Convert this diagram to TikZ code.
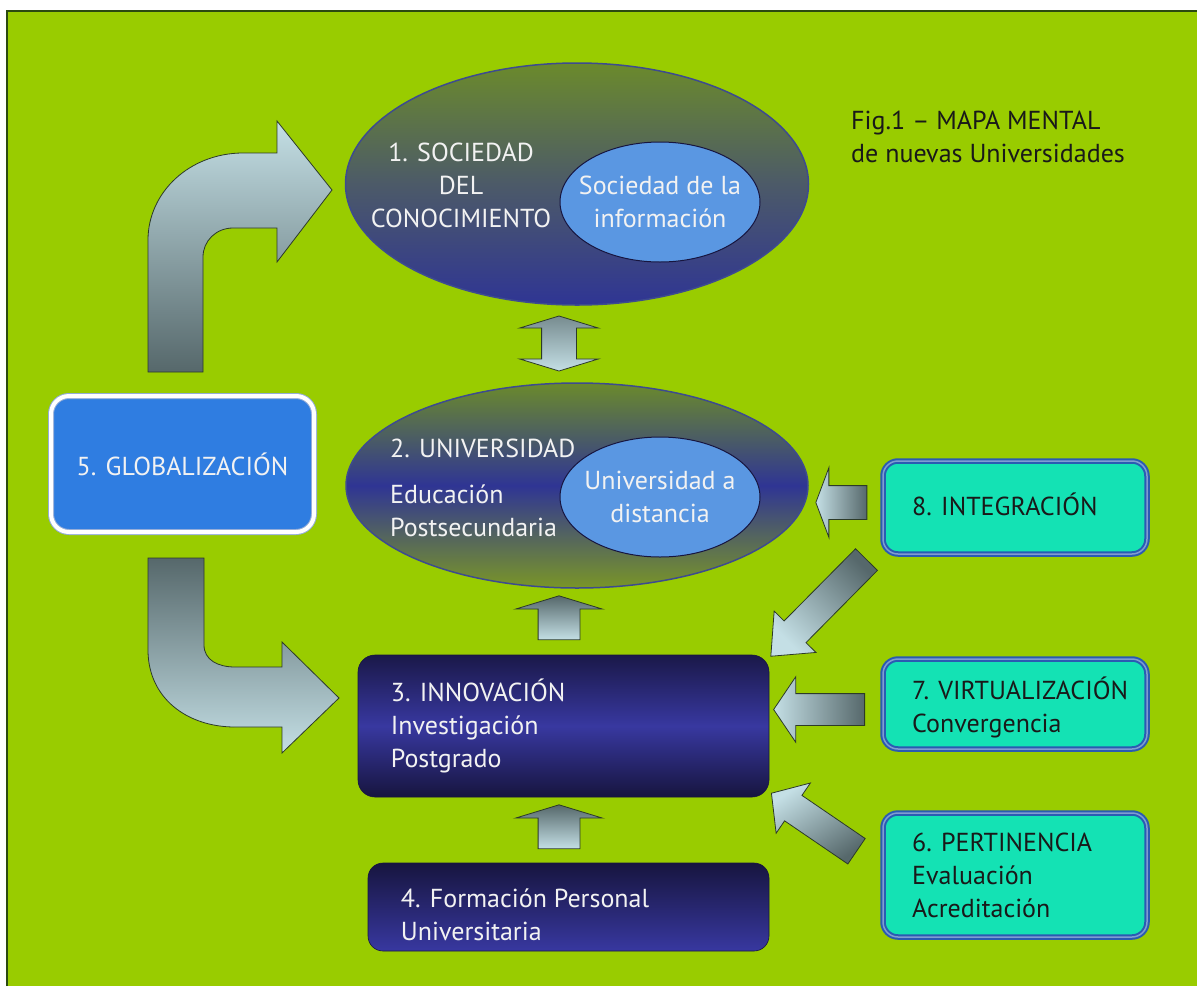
\documentclass[tikz,border=0pt]{standalone}
\usepackage{fontspec}
\setmainfont{PT Sans}
\usetikzlibrary{shapes.geometric,shapes.arrows}

\definecolor{fondo}{HTML}{99CC00}
\definecolor{borde}{HTML}{2B4A10}
\definecolor{oliva}{HTML}{6B8A2C}
\definecolor{pizarra}{HTML}{4C5A68}
\definecolor{marino}{HTML}{2F3594}
\definecolor{bordeelipse}{HTML}{3D4B8F}
\definecolor{celeste}{HTML}{5A97E2}
\definecolor{azul}{HTML}{2F7DE1}
\definecolor{turquesa}{HTML}{14E2B4}
\definecolor{bordeazul}{HTML}{2A5BB2}
\definecolor{noche}{HTML}{17153F}
\definecolor{indigo}{HTML}{3838A0}
\definecolor{flechaclara}{HTML}{C4DFE5}
\definecolor{flechaoscura}{HTML}{56686B}
\definecolor{bordeflecha}{HTML}{2C3A28}

\tikzset{
  txt/.style={font=\fontsize{26}{33}\selectfont, inner sep=0pt},
  blanco/.style={txt, text=white!95!black},
  negro/.style={txt, text=black!90},
  elipse/.style={ellipse, draw=bordeelipse, line width=1.5pt, inner sep=0pt},
  interior/.style={ellipse, draw=noche, line width=1pt, fill=celeste,
    minimum width=200pt, minimum height=120pt, inner sep=0pt},
  cajaoscura/.style={rectangle, rounded corners=17pt, draw=noche, line width=0.6pt},
  cajaverde/.style={rectangle, rounded corners=15pt, fill=turquesa, draw=bordeazul,
    double=bordeazul!60!white, double distance=1.5pt, line width=2pt,
    minimum width=264pt},
  flecha/.style={single arrow, draw=bordeflecha, line width=0.8pt, inner xsep=0pt},
  curva/.style={draw=bordeflecha, line width=0.8pt}
}

\begin{document}
\begin{tikzpicture}[x=1pt,y=-1pt]
  \useasboundingbox (0,0) rectangle (1197,986);
  % Fondo
  \fill[white] (0,0) rectangle (1197,986);
  \fill[fondo] (7,11) rectangle (1197,986);
  \draw[borde,line width=1.5pt] (7,986) -- (7,11) -- (1197,11);

  % 1. Sociedad del conocimiento
  \node[elipse, top color=oliva, bottom color=marino, middle color=pizarra,
    minimum width=463pt, minimum height=242pt] (soc) at (577,184) {};
  \node[interior] (socinf) at (660,202) {};
  \node[blanco, align=center] (socT) at (461,185) {1. SOCIEDAD\\DEL\\CONOCIMIENTO};
  \node[blanco, align=center] (socinfT) at (socinf.center) {Sociedad de la\\información};

  % 2. Universidad
  \node[elipse, top color=oliva, bottom color=oliva!90!yellow, middle color=marino,
    minimum width=462pt, minimum height=205pt] (univ) at (577,485.5) {};
  \node[interior] (univdist) at (660,497) {};
  \node[blanco, anchor=west] (univT) at (390,448) {2. UNIVERSIDAD};
  \node[blanco, anchor=west, align=left] (univE) at (390,511) {Educación\\Postsecundaria};
  \node[blanco, align=center] (univdistT) at (univdist.center) {Universidad a\\distancia};

  % 3. Innovacion
  \node[cajaoscura, top color=noche!90!indigo, bottom color=noche, middle color=indigo,
    minimum width=411pt, minimum height=142pt] (inno) at (563.5,726) {};
  \node[blanco, anchor=west, align=left] (innoT) at ([xshift=33pt]inno.west)
    {3. INNOVACIÓN\\Investigación\\Postgrado};

  % 4. Formacion
  \node[cajaoscura, rounded corners=15pt, top color=noche, bottom color=indigo,
    minimum width=401pt, minimum height=88pt] (form) at (568.5,907) {};
  \node[blanco, anchor=west, align=left] (formT) at ([xshift=33pt,yshift=-8pt]form.west)
    {4. Formación Personal\\Universitaria};

  % 5. Globalizacion
  \node[rectangle, rounded corners=18pt, fill=azul, draw=bordeazul!50!white,
    double=white, double distance=4pt, line width=1pt,
    minimum width=263pt, minimum height=136pt, blanco] (glob) at (182.5,464)
    {5. GLOBALIZACIÓN};

  % 6, 7, 8
  \node[cajaverde, minimum height=93pt] (inte) at (1015,507.5) {};
  \node[negro, anchor=west] (inteT) at ([xshift=30pt,yshift=3pt]inte.west) {8. INTEGRACIÓN};
  \node[cajaverde, minimum height=90pt] (virt) at (1015,704) {};
  \node[negro, anchor=west, align=left] (virtT) at ([xshift=30pt,yshift=-3pt]virt.west)
    {7. VIRTUALIZACIÓN\\Convergencia};
  \node[cajaverde, minimum height=124pt] (pert) at (1015,875) {};
  \node[negro, anchor=west, align=left] (pertT) at ([xshift=30pt]pert.west)
    {6. PERTINENCIA\\Evaluación\\Acreditación};

  % Titulo
  \node[negro, anchor=west, align=left] (fig) at (851,137)
    {Fig.1 – MAPA MENTAL\\de nuevas Universidades};

  % Flechas curvas
  \draw[curva, top color=flechaclara, bottom color=flechaoscura]
    (148,372) -- (148,240) .. controls (148,192) and (190,153) .. (243,153)
    -- (277,153) -- (277,121) -- (332,190) -- (277,262) -- (277,228) -- (233,228)
    .. controls (216,228) and (203,241) .. (203,257) -- (203,372) -- cycle;
  \draw[curva, top color=flechaoscura, bottom color=flechaclara]
    (148,558) -- (148,650) .. controls (148,698) and (187,727) .. (235,727)
    -- (282,727) -- (282,753) -- (339,698) -- (282,642) -- (282,667) -- (235,667)
    .. controls (218,667) and (204,660) .. (204,645) -- (204,558) -- cycle;

  % Flechas rectas
  \node[double arrow, draw=bordeflecha, line width=0.8pt, inner xsep=0pt, inner ysep=17pt,
    rotate=90, minimum height=55pt, double arrow head extend=22pt,
    double arrow tip angle=146, top color=flechaoscura!70!flechaclara,
    bottom color=flechaclara] (f12) at (559,343.5) {};
  \node[flecha, rotate=90, minimum height=44pt, inner ysep=20.5pt,
    single arrow head extend=22.5pt, single arrow tip angle=146,
    top color=flechaoscura, bottom color=flechaclara] (f32) at (559,621) {};
  \node[flecha, rotate=90, minimum height=44pt, inner ysep=20.5pt,
    single arrow head extend=22.5pt, single arrow tip angle=146,
    top color=flechaoscura, bottom color=flechaclara] (f43) at (559,830) {};
  \node[flecha, rotate=180, minimum height=51pt, inner ysep=16.5pt,
    single arrow head extend=18pt, single arrow tip angle=139,
    left color=flechaclara, right color=flechaoscura] (f82) at (844.5,502.5) {};
  \node[flecha, rotate=180, minimum height=91pt, inner ysep=15.5pt,
    single arrow head extend=17pt, single arrow tip angle=112,
    left color=flechaclara, right color=flechaoscura] (f73) at (824.5,709.5) {};
  \node[flecha, rotate=-134.7, minimum height=136pt, inner ysep=15pt,
    single arrow head extend=14pt, single arrow tip angle=81,
    top color=flechaoscura, bottom color=flechaclara, shading angle=-45] (f83) at (825,601.5) {};
  \node[flecha, rotate=145.7, minimum height=103pt, inner ysep=15pt,
    single arrow head extend=15pt, single arrow tip angle=98,
    top color=flechaclara, bottom color=flechaoscura, shading angle=34] (f63) at (819.5,826) {};
\end{tikzpicture}
\end{document}
